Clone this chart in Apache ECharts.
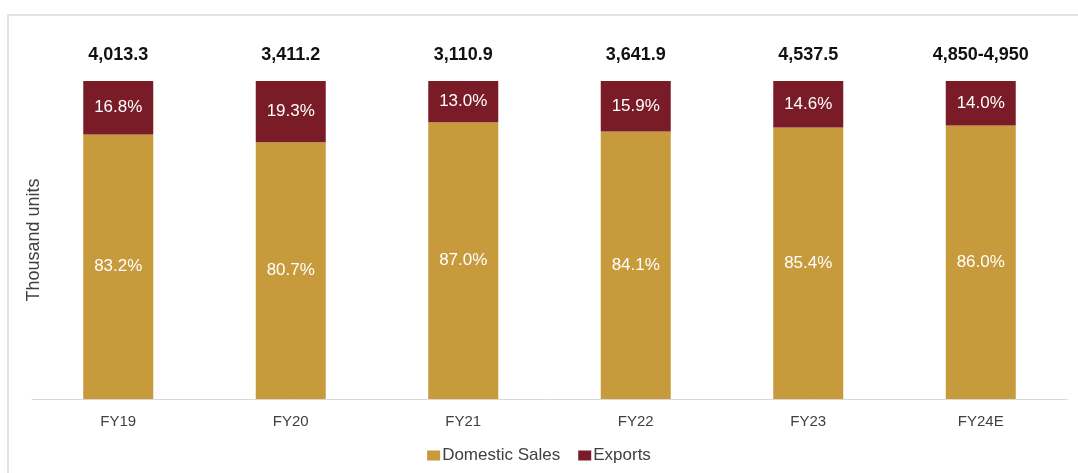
<!DOCTYPE html>
<html>
<head>
<meta charset="utf-8">
<script src="https://cdn.jsdelivr.net/npm/echarts@6/dist/echarts.min.js"></script>
<style>
  html, body { margin: 0; padding: 0; background: #fff; }
  #chart { width: 1078px; height: 473px; }
</style>
</head>
<body>
<div id="chart"></div>
<script>
// share of sales, per fiscal year
var categories = ['FY19', 'FY20', 'FY21', 'FY22', 'FY23', 'FY24E']
var domestic = [83.2, 80.7, 87.0, 84.1, 85.4, 86.0]
var exportsShare = [16.8, 19.3, 13.0, 15.9, 14.6, 14.0]
var totals = ['4,013.3', '3,411.2', '3,110.9', '3,641.9', '4,537.5', '4,850-4,950']

var chart = echarts.init(document.getElementById('chart'))

var pctLabel = {
  show: true,
  position: 'inside',
  color: '#fff',
  fontSize: 17,
  formatter: function (p) { return p.value.toFixed(1) + '%' }
}

chart.setOption({
  animation: false,
  textStyle: { fontFamily: 'Liberation Sans, Arial, sans-serif' },
  graphic: [{
    type: 'rect',
    shape: { x: 8, y: 15, width: 1100, height: 500 },
    style: { fill: 'none', stroke: '#e4e4e4', lineWidth: 2 },
    silent: true,
    z: -1
  }],
  legend: {
    top: 442,
    left: 'center',
    itemWidth: 13,
    itemHeight: 10,
    itemGap: 18,
    icon: 'rect',
    textStyle: { color: '#404040', fontSize: 17, padding: [0, 0, 0, -3] },
    data: ['Domestic Sales', 'Exports']
  },
  grid: {
    top: 81,
    bottom: 74,
    left: 32,
    right: 11
  },
  xAxis: {
    type: 'category',
    data: categories,
    axisTick: { show: false },
    axisLine: { lineStyle: { color: '#d9d9d9', width: 1 } },
    axisLabel: { color: '#404040', fontSize: 15, margin: 15 }
  },
  yAxis: {
    type: 'value',
    min: 0,
    max: 100,
    name: 'Thousand units',
    nameLocation: 'middle',
    nameGap: -11,
    nameTextStyle: { color: '#404040', fontSize: 18 },
    axisLabel: { show: false },
    axisLine: { show: false },
    axisTick: { show: false },
    splitLine: { show: false }
  },
  series: [
    {
      name: 'Domestic Sales',
      type: 'bar',
      stack: 'share',
      barWidth: 70,
      itemStyle: { color: '#c79a3b' },
      label: pctLabel,
      data: domestic
    },
    {
      name: 'Exports',
      type: 'bar',
      stack: 'share',
      barWidth: 70,
      itemStyle: { color: '#7a1c27' },
      label: pctLabel,
      data: exportsShare
    },
    {
      // totals written above each bar
      name: 'Total',
      type: 'bar',
      stack: 'share',
      barWidth: 70,
      itemStyle: { color: 'transparent' },
      label: {
        show: true,
        position: 'top',
        distance: 17,
        color: '#111',
        fontSize: 18,
        fontWeight: 'bold',
        formatter: function (p) { return totals[p.dataIndex] }
      },
      data: categories.map(function () { return 0 })
    }
  ]
})
</script>
</body>
</html>
